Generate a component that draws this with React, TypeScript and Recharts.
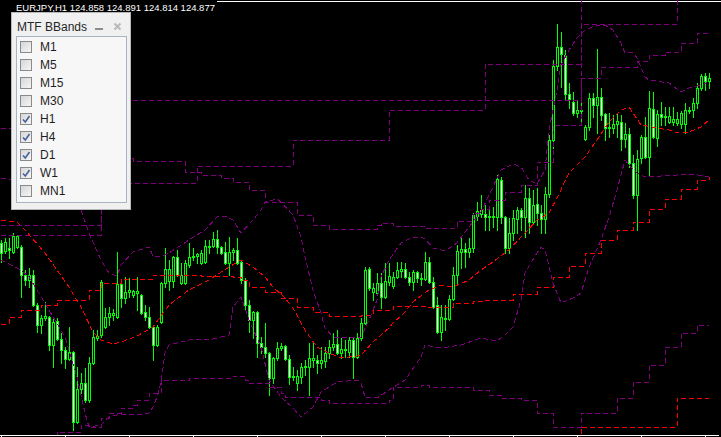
import React from 'react';
import { ComposedChart, Bar, Line, XAxis, YAxis } from 'recharts';

// ---- OHLC (EURJPY H1) ----
const opens = [
  123.23, 123.15, 123.18, 123.14, 123.19, 123.19, 122.91, 122.86, 122.91, 122.61,
  122.41, 122.48, 122.49, 122.21, 122.45, 122.27, 122.16, 122.07, 122.14, 121.44,
  121.77, 121.83, 121.66, 122.03, 122.28, 122.31, 122.39, 122.49, 122.51, 122.49,
  122.82, 122.68, 122.74, 122.71, 122.73, 122.71, 122.54, 122.49, 122.39, 122.21,
  122.44, 122.83, 122.85, 122.85, 123.09, 122.83, 122.83, 123.01, 123.09, 123.10,
  123.03, 123.04, 123.19, 123.20, 123.27, 123.19, 123.14, 123.03, 123.14, 123.16,
  123.04, 122.86, 122.61, 122.46, 122.54, 122.23, 122.19, 122.13, 121.88, 122.08,
  122.18, 122.20, 122.07, 121.89, 121.83, 121.89, 121.99, 121.99, 122.06, 122.06,
  122.03, 122.05, 122.13, 122.19, 122.22, 122.13, 122.17, 122.14, 122.26, 122.09,
  122.28, 122.43, 122.97, 122.74, 122.73, 122.83, 122.69, 122.84, 122.80, 122.89,
  122.95, 122.97, 122.89, 122.84, 122.94, 122.88, 122.87, 123.04, 122.84, 122.61,
  122.34, 122.47, 122.47, 122.67, 122.91, 123.14, 123.17, 123.14, 123.18, 123.50,
  123.52, 123.52, 123.49, 123.50, 123.49, 123.86, 123.49, 123.18, 123.33, 123.47,
  123.56, 123.49, 123.68, 123.44, 123.62, 123.53, 123.47, 123.72, 124.26, 125.00,
  125.19, 125.11, 124.72, 124.64, 124.53, 124.56, 124.27, 124.39, 124.68, 124.61,
  124.69, 124.52, 124.39, 124.38, 124.42, 124.44, 124.27, 124.32, 124.03, 123.71,
  124.08, 124.29, 124.09, 124.57, 124.28, 124.52, 124.49, 124.44, 124.44, 124.43,
  124.42, 124.42, 124.55, 124.56, 124.63, 124.78, 124.90, 124.85,
];
const highs = [
  123.26, 123.28, 123.28, 123.33, 123.31, 123.21, 122.96, 122.98, 122.96, 122.63,
  122.51, 122.64, 122.50, 122.49, 122.48, 122.33, 122.19, 122.39, 122.15, 121.99,
  121.93, 121.98, 122.09, 122.36, 122.36, 122.86, 122.58, 122.59, 122.57, 123.14,
  122.86, 122.89, 122.88, 122.76, 122.89, 122.72, 122.61, 122.59, 122.40, 122.41,
  122.84, 123.18, 123.06, 123.10, 123.16, 123.03, 123.06, 123.23, 123.18, 123.13,
  123.16, 123.26, 123.26, 123.34, 123.36, 123.20, 123.24, 123.29, 123.18, 123.28,
  123.06, 122.88, 122.66, 122.55, 122.55, 122.29, 122.43, 122.14, 122.09, 122.24,
  122.23, 122.21, 122.11, 121.99, 121.96, 122.03, 122.06, 122.23, 122.24, 122.11,
  122.19, 122.19, 122.26, 122.33, 122.36, 122.28, 122.26, 122.29, 122.28, 122.33,
  122.48, 122.99, 122.99, 122.83, 122.93, 122.93, 123.03, 123.03, 122.94, 123.04,
  123.04, 123.03, 122.94, 122.96, 122.95, 122.93, 123.14, 123.09, 122.89, 122.69,
  122.61, 122.61, 122.71, 122.99, 123.21, 123.29, 123.23, 123.28, 123.53, 123.64,
  123.71, 123.61, 123.56, 123.59, 123.91, 123.89, 123.50, 123.48, 123.56, 123.59,
  123.58, 123.81, 123.78, 123.76, 123.78, 123.61, 123.79, 124.31, 125.06, 125.42,
  125.34, 125.16, 124.83, 124.74, 124.66, 124.66, 124.41, 124.73, 124.73, 125.17,
  124.78, 124.53, 124.53, 124.51, 124.53, 124.51, 124.43, 124.38, 124.11, 124.16,
  124.31, 124.49, 124.75, 124.74, 124.56, 124.64, 124.59, 124.59, 124.59, 124.54,
  124.55, 124.63, 124.59, 124.68, 124.83, 124.92, 124.93, 124.93,
];
const lows = [
  123.04, 123.13, 123.08, 123.13, 123.18, 122.69, 122.81, 122.79, 122.60, 122.34,
  122.33, 122.46, 122.16, 121.99, 122.26, 122.03, 121.98, 122.06, 121.36, 121.43,
  121.73, 121.64, 121.64, 122.02, 122.26, 122.29, 122.38, 122.41, 122.46, 122.48,
  122.59, 122.63, 122.69, 122.69, 122.56, 122.52, 122.46, 122.38, 122.06, 122.20,
  122.43, 122.79, 122.76, 122.79, 122.90, 122.82, 122.82, 122.99, 123.06, 123.03,
  123.02, 123.03, 123.13, 123.19, 123.13, 123.12, 123.02, 122.91, 123.06, 123.02,
  122.83, 122.56, 122.34, 122.28, 122.09, 122.13, 122.09, 121.71, 121.83, 122.06,
  122.16, 122.06, 121.82, 121.86, 121.76, 121.83, 121.91, 121.71, 121.99, 121.93,
  121.98, 121.99, 122.08, 122.16, 122.12, 122.08, 122.09, 122.09, 121.88, 122.08,
  122.26, 122.42, 122.76, 122.66, 122.72, 122.58, 122.68, 122.81, 122.78, 122.88,
  122.89, 122.88, 122.81, 122.76, 122.84, 122.81, 122.86, 122.83, 122.58, 122.33,
  122.26, 122.36, 122.46, 122.66, 122.81, 122.98, 122.99, 123.09, 123.14, 123.46,
  123.49, 123.36, 123.36, 123.39, 123.36, 123.43, 123.13, 123.13, 123.26, 123.33,
  123.36, 123.29, 123.33, 123.43, 123.41, 123.33, 123.33, 123.69, 124.18, 124.96,
  124.79, 124.66, 124.58, 124.51, 124.49, 124.41, 124.26, 124.36, 124.49, 124.33,
  124.46, 124.26, 124.29, 124.33, 124.29, 124.16, 124.19, 123.99, 123.68, 123.36,
  124.03, 124.08, 123.91, 124.28, 124.20, 124.41, 124.41, 124.43, 124.41, 124.41,
  124.38, 124.33, 124.53, 124.49, 124.58, 124.76, 124.76, 124.78,
];
const closes = [
  123.13, 123.24, 123.16, 123.30, 123.30, 122.91, 122.86, 122.91, 122.61, 122.41,
  122.48, 122.50, 122.21, 122.44, 122.27, 122.16, 122.07, 122.14, 121.44, 121.77,
  121.83, 121.66, 122.03, 122.29, 122.30, 122.84, 122.49, 122.53, 122.53, 122.82,
  122.68, 122.74, 122.76, 122.75, 122.75, 122.53, 122.49, 122.39, 122.21, 122.39,
  122.83, 122.97, 122.97, 123.09, 122.91, 122.91, 123.03, 123.09, 123.10, 123.12,
  123.13, 123.20, 123.20, 123.27, 123.19, 123.13, 123.03, 123.14, 123.16, 123.03,
  122.86, 122.61, 122.46, 122.54, 122.23, 122.19, 122.13, 121.88, 122.08, 122.18,
  122.20, 122.07, 121.89, 121.90, 121.90, 121.99, 122.00, 122.08, 122.08, 122.03,
  122.06, 122.13, 122.19, 122.22, 122.13, 122.17, 122.16, 122.26, 122.09, 122.28,
  122.43, 122.96, 122.78, 122.78, 122.83, 122.69, 122.85, 122.90, 122.89, 122.96,
  122.97, 122.89, 122.84, 122.94, 122.88, 122.87, 123.04, 122.84, 122.59, 122.34,
  122.49, 122.48, 122.67, 122.91, 123.15, 123.17, 123.14, 123.18, 123.51, 123.55,
  123.56, 123.49, 123.50, 123.49, 123.87, 123.49, 123.18, 123.33, 123.48, 123.56,
  123.49, 123.68, 123.44, 123.61, 123.53, 123.47, 123.72, 124.26, 125.00, 125.19,
  125.12, 124.72, 124.67, 124.53, 124.56, 124.55, 124.39, 124.68, 124.61, 124.69,
  124.51, 124.38, 124.38, 124.42, 124.45, 124.27, 124.32, 124.03, 123.71, 124.07,
  124.29, 124.09, 124.58, 124.29, 124.52, 124.49, 124.50, 124.50, 124.47, 124.47,
  124.53, 124.56, 124.56, 124.63, 124.78, 124.90, 124.85, 124.88,
];

// ---- Band lines: [bar index, price] ----
const h1Upper: [number, number][] = [
  [0, 123.88], [10, 123.81], [20, 123.56], [22, 123.33], [25, 123.06], [27, 122.93], [29, 122.90],
  [30, 123.01], [33, 123.14], [37, 123.19], [38, 123.10], [40, 123.09], [42, 123.13], [47, 123.26],
  [51, 123.36], [54, 123.49], [56, 123.50], [58, 123.46], [60, 123.33], [63, 123.46], [65, 123.56],
  [66, 123.64], [69, 123.67], [70, 123.64], [73, 123.51], [75, 123.29], [76, 123.09], [78, 122.76],
  [80, 122.53], [81, 122.38], [83, 122.29], [88, 122.28], [90, 122.29], [92, 122.46], [94, 122.66],
  [95, 122.89], [97, 123.06], [100, 123.23], [103, 123.29], [105, 123.29], [106, 123.27], [108, 123.18],
  [111, 123.15], [114, 123.23], [116, 123.34], [119, 123.49], [120, 123.54], [125, 123.96], [128, 124.02],
  [130, 123.99], [132, 123.86], [134, 123.82], [136, 123.96], [137, 124.36], [139, 124.76], [140, 125.01],
  [142, 125.16], [144, 125.28], [146, 125.36], [149, 125.41], [151, 125.41], [153, 125.36], [155, 125.23],
  [156, 125.13], [158, 125.14], [159, 125.08], [161, 124.89], [162, 124.86], [167, 124.83], [170, 124.74],
  [172, 124.78], [175, 124.81], [177, 124.84],
];
const h1Middle: [number, number][] = [
  [0, 123.46], [4, 123.44], [6, 123.36], [11, 123.13], [14, 122.96], [17, 122.79], [20, 122.59],
  [23, 122.34], [25, 122.26], [28, 122.22], [30, 122.24], [34, 122.30], [38, 122.39], [42, 122.61],
  [47, 122.76], [52, 122.86], [57, 122.99], [60, 123.06], [63, 122.99], [66, 122.89], [68, 122.79],
  [71, 122.68], [73, 122.58], [76, 122.36], [79, 122.19], [82, 122.13], [85, 122.08], [89, 122.10],
  [90, 122.11], [93, 122.24], [97, 122.38], [98, 122.43], [101, 122.54], [103, 122.64], [107, 122.76],
  [110, 122.81], [113, 122.79], [117, 122.86], [120, 122.96], [123, 123.04], [127, 123.16], [131, 123.33],
  [134, 123.46], [137, 123.53], [139, 123.68], [142, 123.93], [146, 124.09], [149, 124.26], [152, 124.44],
  [155, 124.56], [157, 124.59], [158, 124.53], [160, 124.41], [167, 124.36], [169, 124.33], [172, 124.34],
  [175, 124.39], [177, 124.46],
];
const h1Lower: [number, number][] = [
  [0, 123.06], [5, 122.96], [7, 122.89], [9, 122.76], [12, 122.56], [16, 122.29], [19, 121.89],
  [21, 121.53], [22, 121.39], [25, 121.41], [27, 121.49], [30, 121.52], [35, 121.51], [37, 121.53],
  [38, 121.59], [39, 121.69], [40, 121.83], [41, 122.13], [42, 122.21], [45, 122.24], [48, 122.27],
  [53, 122.27], [57, 122.31], [58, 122.59], [60, 122.69], [62, 122.46], [65, 122.19], [67, 121.86],
  [70, 121.69], [73, 121.58], [75, 121.49], [78, 121.59], [80, 121.74], [84, 121.84], [89, 121.86],
  [90, 121.83], [91, 121.69], [94, 121.68], [97, 121.76], [101, 121.86], [105, 122.09], [106, 122.21],
  [110, 122.18], [115, 122.21], [120, 122.28], [124, 122.25], [126, 122.31], [128, 122.39], [130, 122.66],
  [131, 122.93], [134, 123.13], [135, 123.19], [136, 123.16], [138, 122.83], [140, 122.63], [143, 122.68],
  [145, 122.73], [147, 122.99], [150, 123.26], [152, 123.49], [154, 123.76], [156, 124.06], [157, 124.01],
  [159, 123.93], [161, 123.89], [169, 123.91], [173, 123.92], [177, 123.89],
];
const h4Upper: [number, number][] = [
  [0, 123.31], [25, 124.08], [33, 124.05], [46, 123.94], [50, 123.91], [55, 123.88], [58, 123.84],
  [62, 123.76], [66, 123.64], [74, 123.51], [78, 123.41], [82, 123.37], [94, 123.41], [95, 123.43],
  [98, 123.40], [106, 123.38], [114, 123.45], [118, 123.53], [120, 123.57], [122, 123.66], [126, 123.74],
  [130, 123.81], [134, 124.04], [138, 124.41], [145, 124.88], [150, 124.99], [159, 125.05], [162, 125.11],
  [166, 125.14], [170, 125.23], [174, 125.33], [177, 125.34],
];
const h4Middle: [number, number][] = [
  [0, 122.42], [2, 122.49], [5, 122.56], [10, 122.61], [14, 122.66], [22, 122.76], [25, 122.83],
  [30, 122.87], [38, 122.91], [50, 122.90], [58, 122.89], [60, 122.86], [62, 122.79], [66, 122.74],
  [70, 122.68], [74, 122.59], [78, 122.54], [82, 122.50], [90, 122.51], [93, 122.56], [98, 122.60],
  [106, 122.59], [113, 122.63], [118, 122.65], [121, 122.66], [128, 122.72], [134, 122.79], [138, 122.89],
  [142, 123.00], [146, 123.13], [150, 123.26], [154, 123.36], [158, 123.44], [162, 123.57], [166, 123.67],
  [170, 123.77], [174, 123.86], [177, 123.89],
];
const h4Lower: [number, number][] = [
  [0, 121.21], [14, 121.34], [20, 121.41], [22, 121.39], [25, 121.48], [27, 121.53], [30, 121.58],
  [33, 121.61], [34, 121.66], [37, 121.73], [40, 121.86], [47, 121.88], [58, 121.90], [61, 121.86],
  [62, 121.83], [67, 121.79], [70, 121.73], [71, 121.69], [80, 121.66], [82, 121.63], [97, 121.66],
  [98, 121.79], [105, 121.81], [107, 121.79], [118, 121.76], [122, 121.71], [125, 121.68], [130, 121.66],
  [134, 121.53], [138, 121.39], [145, 121.53], [154, 121.68], [158, 121.84], [162, 122.01], [166, 122.19],
  [170, 122.33], [174, 122.41], [177, 122.41],
];
const d1Upper: [number, number][] = [
  [0, 123.41], [25, 123.83], [49, 124.00], [73, 124.26], [97, 124.56], [121, 125.02], [145, 125.42],
  [169, 126.06], [177, 126.06],
];
const d1Middle: [number, number][] = [[0, 120.96], [145, 121.39], [169, 121.68], [177, 121.68]];
const w1Upper: [number, number][] = [[0, 124.38], [25, 124.66], [145, 126.06], [177, 126.06]];

const timeframes = ['M1', 'M5', 'M15', 'M30', 'H1', 'H4', 'D1', 'W1', 'MN1'];
const checkedFrames = ['H1', 'H4', 'D1', 'W1'];
const titleText = 'EURJPY,H1 124.858 124.891 124.814 124.877';
const xTicks = [0, 16, 32, 48, 64, 80, 96, 112, 128, 144, 160, 176];
const SLOTS = 180;
const PRICE_MIN = 121.31;
const PRICE_MAX = 125.66;

const PURPLE = '#800080';
const RED = '#ff0000';
const LIME = '#00ff00';

const series = [
  { key: 'w1u', pts: w1Upper, color: PURPLE, step: true },
  { key: 'd1u', pts: d1Upper, color: PURPLE, step: true },
  { key: 'd1m', pts: d1Middle, color: RED, step: true },
  { key: 'h4u', pts: h4Upper, color: PURPLE, step: true },
  { key: 'h4m', pts: h4Middle, color: RED, step: true },
  { key: 'h4l', pts: h4Lower, color: PURPLE, step: true },
  { key: 'h1u', pts: h1Upper, color: PURPLE, step: false },
  { key: 'h1m', pts: h1Middle, color: RED, step: false },
  { key: 'h1l', pts: h1Lower, color: PURPLE, step: false },
];

const data: any[] = Array.from({ length: SLOTS }, (_, i) => {
  const row: any = { i };
  if (i < opens.length) {
    row.o = opens[i];
    row.h = highs[i];
    row.l = lows[i];
    row.c = closes[i];
    row.range = [lows[i], highs[i]];
  }
  return row;
});
series.forEach((s) => s.pts.forEach(([k, v]) => { data[k][s.key] = v; }));

const Candle = (props: any) => {
  const { x, y, width, height, payload } = props;
  if (!payload || payload.o == null || !isFinite(y) || !isFinite(height)) return null;
  const top = Math.min(y, y + height);
  const bot = Math.max(y, y + height);
  const { o, h, l, c } = payload;
  const span = h - l || 1;
  const py = (p: number) => top + ((h - p) / span) * (bot - top);
  const cx = Math.round(x + width / 2);
  const r0 = Math.round(py(Math.max(o, c)));
  const r1 = Math.round(py(Math.min(o, c)));
  const bull = c > o;
  return (
    <g shapeRendering="crispEdges">
      <line x1={cx + 0.5} x2={cx + 0.5} y1={Math.round(top)} y2={Math.round(bot) + 1} stroke={LIME} strokeWidth={1} />
      <rect x={cx - 0.5} y={r0 + 0.5} width={2} height={Math.max(r1 - r0, 1)} fill={bull ? '#000' : '#fff'} stroke={LIME} strokeWidth={1} />
    </g>
  );
};

const font = '"Liberation Sans", Arial, sans-serif';

export default function App() {
  return (
    <div style={{ position: 'fixed', left: 0, top: 0, width: 721, height: 437, background: '#000', overflow: 'hidden' }}>
      <style>{`.recharts-line-curve, .recharts-cartesian-axis-line, .recharts-cartesian-axis-tick-line { shape-rendering: crispEdges; }`}</style>
      <div style={{ position: 'absolute', left: 0, top: 1, width: 721, height: 1, background: '#fff' }} />
      <div style={{ position: 'absolute', left: -1, top: 0 }}>
        <ComposedChart width={722} height={437} data={data} margin={{ top: 0, right: 2, bottom: 0, left: 0 }} barCategoryGap={0} barGap={0}>
          <XAxis dataKey="i" ticks={xTicks} interval={0} height={2} tickSize={2} tickFormatter={() => ''}
            axisLine={{ stroke: '#fff' }} tickLine={{ stroke: '#fff' }} />
          <YAxis hide type="number" domain={[PRICE_MIN, PRICE_MAX]} allowDataOverflow />
          <Bar dataKey="range" shape={(p: any) => <Candle {...p} />} isAnimationActive={false} />
          {series.map((s) => (
            <Line key={s.key} dataKey={s.key} type={s.step ? 'stepAfter' : 'linear'} stroke={s.color}
              strokeWidth={1} strokeDasharray="5 3" dot={false} activeDot={false} connectNulls isAnimationActive={false} />
          ))}
        </ComposedChart>
      </div>
      <div style={{ position: 'absolute', left: 0, top: 0, height: 14, paddingLeft: 16, paddingRight: 2, paddingTop: 3, boxSizing: 'border-box',
        background: '#000', color: '#fff', fontFamily: font, fontSize: 9.5, lineHeight: '9.5px', whiteSpace: 'pre' }}>{titleText}</div>
      {/* MTF BBands panel */}
      <div style={{ position: 'absolute', left: 11, top: 12, width: 120, height: 198, boxSizing: 'border-box', background: '#f0f0f0', border: '1px solid #b8b8b8' }} />
      <div style={{ position: 'absolute', left: 17, top: 21, fontFamily: font, fontSize: 12, lineHeight: '12px', color: '#262626', whiteSpace: 'pre' }}>MTF BBands</div>
      <div style={{ position: 'absolute', left: 95, top: 28, width: 8, height: 2, background: '#8c8c8c' }} />
      <svg style={{ position: 'absolute', left: 113, top: 22 }} width={9} height={9}>
        <line x1={1.5} y1={1.5} x2={7.5} y2={7.5} stroke="#b8b8b8" strokeWidth={2} />
        <line x1={7.5} y1={1.5} x2={1.5} y2={7.5} stroke="#b8b8b8" strokeWidth={2} />
      </svg>
      <div style={{ position: 'absolute', left: 16, top: 36, width: 111, height: 167, boxSizing: 'border-box', background: '#f7f7f7', border: '1px solid #a8b4c2' }} />
      {timeframes.map((tf, k) => (
        <React.Fragment key={tf}>
          <div style={{ position: 'absolute', left: 20, top: 41 + 18 * k, width: 12, height: 12, boxSizing: 'border-box',
            border: '1px solid #8a8a8a', background: 'linear-gradient(135deg, #d6d6d6, #f6f6f6)' }}>
            {checkedFrames.includes(tf) && (
              <svg width={10} height={10} style={{ position: 'absolute', left: 0, top: 0 }}>
                <path d="M2 5.5 L4.3 8 L8.5 2" fill="none" stroke="#45609c" strokeWidth={1.6} />
              </svg>
            )}
          </div>
          <div style={{ position: 'absolute', left: 40, top: 41 + 18 * k, fontFamily: font, fontSize: 12, lineHeight: '12px', color: '#1e1e1e', whiteSpace: 'pre' }}>{tf}</div>
        </React.Fragment>
      ))}
    </div>
  );
}
